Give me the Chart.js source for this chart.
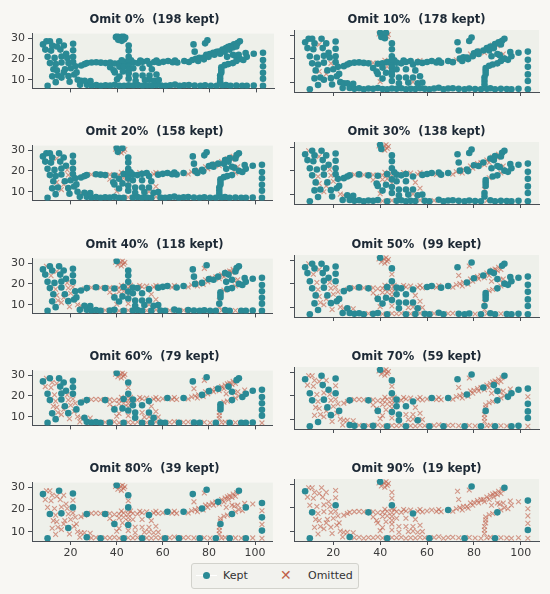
<!DOCTYPE html>
<html><head><meta charset="utf-8">
<script src="https://cdn.jsdelivr.net/npm/chart.js@4.4.0/dist/chart.umd.min.js"></script>
<style>
html,body{margin:0;padding:0;background:#f8f7f3;}
#wrap{position:relative;width:550px;height:594px;overflow:hidden;font-family:'DejaVu Sans',sans-serif;}
#wrap canvas{position:absolute;}
.ttl{position:absolute;font-weight:bold;font-size:11.5px;line-height:14px;color:#1d2935;text-align:center;white-space:pre;}
#legend{position:absolute;left:191px;top:563px;width:166px;height:24px;border:1px solid #d2d2cc;border-radius:3px;background:#f2f2ee;font-size:11px;color:#333;}
#legend .it{position:absolute;top:5px;line-height:14px;}
#legend .dot{position:absolute;left:11px;top:8px;width:7px;height:7px;border-radius:50%;background:#2a8a95;}
#legend .ln{position:absolute;left:4px;top:11px;width:21px;height:1px;background:#ffffff;}
#legend .cross{position:absolute;left:88px;top:3px;font-size:14px;line-height:16px;color:#c0604a;}
</style></head><body><div id="wrap"></div>
<script>
const omitPct=[0,10,20,30,40,50,60,70,80,90];
const xTicks=[20,40,60,80,100];
const yTicks=[10,20,30];
const ptX=[8,9.5,11,12,15,9,11.5,15.5,14,21,
21,10,13,16,18.5,21,11,13.5,16,19,
21,12.5,14,17.5,20,22,12,14.5,16,19,
17,13.5,21.5,23,10,22.5,24,24.5,24.5,26,
27,29,31,33,35,37,39,41,43,45,
47,49,51,54,56,58,60,62,64,66,
69,71,42,46,50,53,57,65,72.5,74,
75.5,77,78.5,80,81.5,83,84,85.5,87,88,
89,90.5,92,93,75,77.5,79.5,82,84.5,86.5,
88.5,90,91.5,73,73.5,78,79,103,103,103,
103,103,103,99,96,85,86.5,88,90,91.5,
93,91,92.5,85,85,84.5,84.5,84.5,27,29,
31,33,35,37,39,41,43,45,47,49,
51,53,55,57,59,61,63,65,67,69,
71,73.5,76,78,80.5,83,85.5,87,89,91.5,
94,96,99,39.5,40,41.5,42.5,43.5,40.5,42,
43,45,45,45,45,37,38.5,39,41,41,
40,42.5,43,45,45,45,45,48,51,54,
55,54,56,58,57,28.5,90,94.5,48,51,
26,18,87.5,47,17,95.5,52,19.5];
const ptY=[27,28.5,28.5,26.5,28.5,24.5,24,24.5,26,27.3,
24.2,21,20.5,21.2,20.5,21,18,17.5,18.3,18,
18.5,15,14.5,15,15.5,16.5,11.6,12,11,11.7,
13.5,8.8,12.5,10,7,13.5,7.5,9.5,16.8,17.5,
18,18.3,18.4,18.2,18,18.2,17.8,18,18.5,17.8,
18.3,18,18.6,17.5,18.5,18.2,18.6,19,18.4,18.3,
19,18.5,19.3,19.3,19.2,19,19.2,19.2,19.5,20,
20.6,20.5,22,22.3,23,23.4,23.5,24.5,25.2,25.8,
26.2,27,27.6,28.5,19,19.8,21,22,22.5,23.5,
24.5,25.5,26,27,23.5,27.5,29,23,19.5,16.5,
13.3,10.5,7,22.5,21,16,17,17.5,18,19,
20,21.5,22,14.8,13.5,12,10.5,9,7.5,7.2,
7.4,7,7.3,7.2,7.5,7.1,7,7.3,7.2,7.4,
7,7.2,7.1,7.4,7.2,7,7.3,7.6,7,7.3,
7.4,7.2,7,7.3,7.1,7,7.2,7.4,7,7.2,
7.1,7,7.2,30.5,31,30.5,31,30.3,29.2,28.7,
29.5,26.5,24,21,19.6,16,14.5,13.5,16.2,11.5,
10.2,14,16.5,16.3,14.6,13,10.5,12,12,12,
15,10,9.5,9.8,12.5,9.3,22,19.5,9.5,15.5,
9.5,22.5,21,15.5,26.5,22.8,9.8,9];
// highest omit step (0..9) at which the point is still kept
const ptLevel=[9,2,6,5,8,5,3,7,0,8,
6,7,4,6,1,9,9,2,8,0,
3,5,0,7,2,4,6,3,1,8,
0,7,5,2,9,7,5,1,6,3,
8,1,5,2,9,0,4,1,6,2,
7,5,3,9,1,4,5,8,2,5,
9,1,0,3,1,2,0,3,0,4,
1,8,0,6,2,0,8,1,5,0,
3,1,6,9,2,3,1,4,0,2,
7,0,4,8,4,3,9,9,6,8,
7,9,5,7,8,6,2,4,9,1,
5,3,0,6,8,2,5,3,9,7,
6,8,3,7,5,2,9,1,4,4,
8,3,6,1,6,9,2,5,8,3,
4,6,9,5,4,8,2,5,9,3,
6,8,7,0,9,1,2,0,3,1,
0,8,4,9,2,1,3,8,2,5,
0,6,0,4,1,8,3,7,5,6,
2,0,7,4,1,4,7,7,7,7,
6,7,4,7,6,5,4,3];

const KEPT_C='#2a8a95', OMIT_C='rgba(192,96,74,0.62)', PLOT_BG='#eef0ea', AXIS_C='#4a4f55', TICK_C='#3a3a3a';
const wrap=document.getElementById('wrap');
const bgPlugin={id:'plotbg',beforeDraw(c){const a=c.chartArea,ctx=c.ctx;ctx.save();ctx.fillStyle=PLOT_BG;ctx.fillRect(a.left,a.top,a.right-a.left,a.bottom-a.top);ctx.restore();}};
const ROW0=30, ROWSTEP=112.3, PLOTH=62, PADTOP=6;

for(let k=0;k<omitPct.length;k++){
  const row=Math.floor(k/2), col=k%2;
  const plotTop=Math.round(ROW0+row*ROWSTEP);
  const bottomRow=(row===4);
  const xh=bottomRow?22:6;
  const cl=col===0?0:282, cw=col===0?278:268;
  const ch=PADTOP+PLOTH+xh;
  const cv=document.createElement('canvas');
  cv.width=cw; cv.height=ch;
  cv.style.left=cl+'px'; cv.style.top=(plotTop-PADTOP)+'px';
  cv.style.width=cw+'px'; cv.style.height=ch+'px';
  wrap.appendChild(cv);
  const kept=[], omitted=[];
  for(let i=0;i<ptX.length;i++){
    const p={x:ptX[i],y:ptY[i]};
    if(ptLevel[i]>=k) kept.push(p); else omitted.push(p);
  }
  const yw=col===0?32:12;
  const padR=col===0?1:11;
  const areaL=cl+yw, areaR=cl+cw-padR;
  const t=document.createElement('div');
  t.className='ttl';
  t.textContent='Omit '+omitPct[k]+'%  ('+kept.length+' kept)';
  t.style.left=areaL+'px'; t.style.width=(areaR-areaL)+'px';
  t.style.top=(plotTop-18)+'px';
  wrap.appendChild(t);
  new Chart(cv,{
    type:'scatter',
    data:{datasets:[
      {label:'Kept',data:kept,pointStyle:'circle',pointRadius:3.3,backgroundColor:KEPT_C,borderWidth:0,pointBorderWidth:0},
      {label:'Omitted',data:omitted,pointStyle:'crossRot',pointRadius:3.4,borderColor:OMIT_C,pointBorderColor:OMIT_C,pointBorderWidth:1.1,backgroundColor:OMIT_C}
    ]},
    options:{
      responsive:false,animation:false,
      layout:{padding:{top:PADTOP,bottom:0,left:0,right:padR}},
      plugins:{legend:{display:false},tooltip:{enabled:false},title:{display:false}},
      scales:{
        x:{type:'linear',min:3.25,max:107.75,
          afterBuildTicks:s=>{s.ticks=xTicks.map(v=>({value:v}));},
          afterFit:s=>{s.height=xh;},
          ticks:{display:bottomRow,autoSkip:false,maxRotation:0,padding:2,color:TICK_C,font:{family:'DejaVu Sans',size:11}},
          grid:{display:true,drawOnChartArea:false,drawTicks:true,tickLength:4,color:AXIS_C,tickColor:AXIS_C},
          border:{display:true,color:AXIS_C,width:1}},
        y:{type:'linear',min:5.8,max:32.2,
          afterBuildTicks:s=>{s.ticks=yTicks.map(v=>({value:v}));},
          afterFit:s=>{s.width=yw;},
          ticks:{display:col===0,autoSkip:false,padding:3,color:TICK_C,font:{family:'DejaVu Sans',size:11}},
          grid:{display:true,drawOnChartArea:false,drawTicks:true,tickLength:4,color:AXIS_C,tickColor:AXIS_C},
          border:{display:true,color:AXIS_C,width:1}}
      }
    },
    plugins:[bgPlugin]
  });
}
const lg=document.createElement('div');
lg.id='legend';
lg.innerHTML='<div class="ln"></div><div class="dot"></div><div class="it" style="left:31px">Kept</div><div class="cross">✕</div><div class="it" style="left:116px">Omitted</div>';
wrap.appendChild(lg);
</script>
</body></html>
